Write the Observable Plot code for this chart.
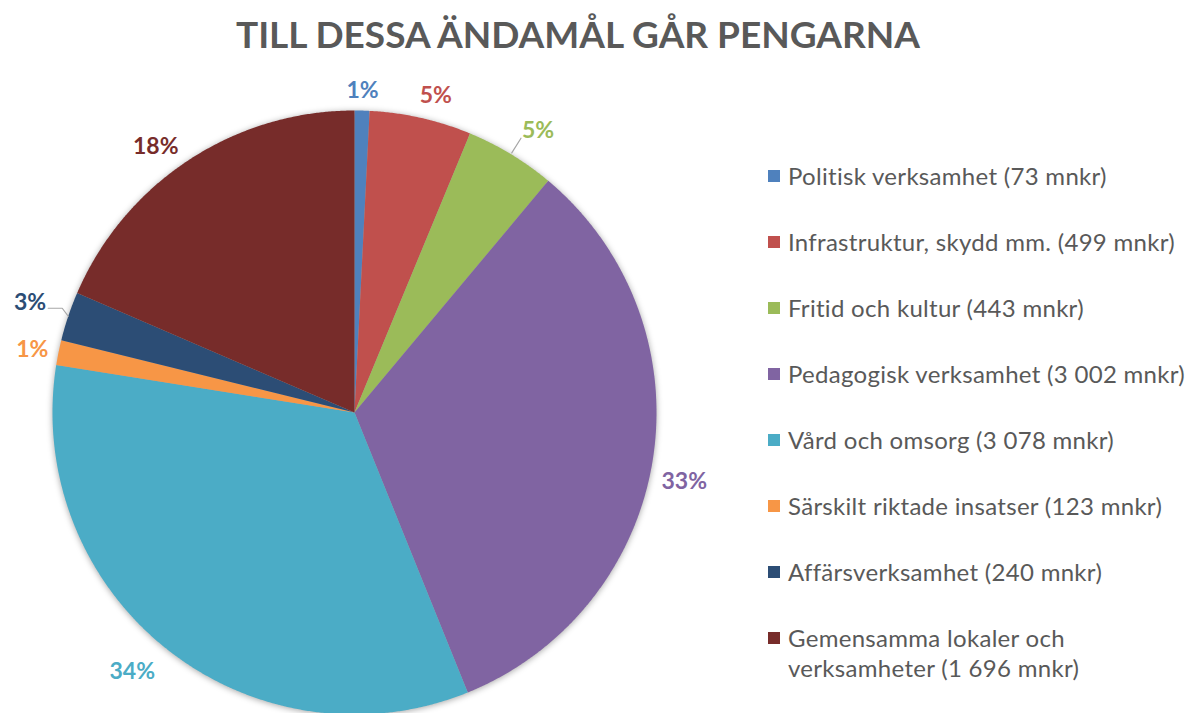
<!DOCTYPE html>
<html>
<head>
<meta charset="utf-8">
<script src="https://cdn.jsdelivr.net/npm/d3@7"></script>
<script src="https://cdn.jsdelivr.net/npm/@observablehq/plot@0.6"></script>
<style>
  html, body { margin: 0; padding: 0; background: #fff; overflow: hidden; }
  #wrap { position: relative; width: 1197px; height: 713px; font-family: Lato, "Open Sans", sans-serif; }
  #title { position: absolute; left: 0; width: 1156px; top: 11px; text-align: center; font-weight: 700; font-size: 37px; color: #595959; }
  #chart { position: absolute; left: 0; top: 0; }
  #legend { position: absolute; left: 768px; top: 0; color: #595959; font-size: 24px; letter-spacing: 0.3px; }
  .item { position: absolute; left: 0; white-space: nowrap; line-height: 30px; }
  .sw { position: absolute; left: 0; top: 9px; width: 12px; height: 12px; }
  .lt { position: absolute; left: 20px; top: 0; }
</style>
</head>
<body>
<div id="wrap">
  <div id="title">TILL DESSA ÄNDAMÅL GÅR PENGARNA</div>
  <div id="chart"></div>
  <div id="legend"></div>
</div>
<script>
// ---- data ----
const names = ["Politisk verksamhet", "Infrastruktur, skydd mm.", "Fritid och kultur", "Pedagogisk verksamhet", "Vård och omsorg", "Särskilt riktade insatser", "Affärsverksamhet", "Gemensamma lokaler och verksamheter"];
const values = [73, 499, 443, 3002, 3078, 123, 240, 1696];
const pctLabels = ["1%", "5%", "5%", "33%", "34%", "1%", "3%", "18%"];
const legendLabels = [
  ["Politisk verksamhet (73 mnkr)"],
  ["Infrastruktur, skydd mm. (499 mnkr)"],
  ["Fritid och kultur (443 mnkr)"],
  ["Pedagogisk verksamhet (3 002 mnkr)"],
  ["Vård och omsorg (3 078 mnkr)"],
  ["Särskilt riktade insatser (123 mnkr)"],
  ["Affärsverksamhet (240 mnkr)"],
  ["Gemensamma lokaler och", "verksamheter (1 696 mnkr)"]
];
const colors = ["#4F81BD", "#C0504D", "#9BBB59", "#8064A2", "#4BACC6", "#F79646", "#2C4D75", "#772C2A"];

// ---- layout (pixels) ----
const R = 302;            // pie radius in px
const labelNudge = [[0, 0], [10, 0], [14, -2], [2, 18], [-16, 0], [-2, 2], [-14, -6], [-17, 10]];
const leaders = { 2: true, 6: true };

// ---- geometry from data ----
const arcs = d3.pie().sort(null).value(v => v)(values);
const pts = [];
arcs.forEach((a, i) => {
  const name = names[i];
  pts.push({name, x: 0, y: 0});
  const n = Math.max(2, Math.ceil((a.endAngle - a.startAngle) / 0.005));
  for (let k = 0; k <= n; k++) {
    const t = a.startAngle + (a.endAngle - a.startAngle) * k / n;
    pts.push({name, x: Math.sin(t), y: Math.cos(t)});
  }
  pts.push({name, x: 0, y: 0});
});

const labels = arcs.map((a, i) => {
  const m = (a.startAngle + a.endAngle) / 2;
  const s = Math.sin(m), c = Math.cos(m);
  const w = pctLabels[i].length * 11 + 4, h = 20;
  const rl = (312 + Math.abs(s) * w / 2 + Math.abs(c) * h / 2) / R;
  return {name: names[i], text: pctLabels[i], x: s * rl, y: c * rl, m, i};
});

const leaderLines = [];
labels.forEach(l => {
  if (!leaders[l.i]) return;
  const ex = Math.sin(l.m), ey = Math.cos(l.m);
  if (l.i === 6) {
    leaderLines.push({id: l.i, x: ex, y: ey});
    leaderLines.push({id: l.i, x: ex - 6 / R, y: ey + 8 / R});
    leaderLines.push({id: l.i, x: ex - 20 / R, y: ey + 8 / R});
  } else {
    leaderLines.push({id: l.i, x: ex * 1.005, y: ey * 1.005});
    leaderLines.push({id: l.i, x: ex + 10 / R, y: ey + 16 / R});
  }
});

const plot = Plot.plot({
  width: 1197,
  height: 713,
  margin: 0,
  style: {background: "transparent", overflow: "visible"},
  x: {domain: [-1, 1], range: [354 - R, 354 + R], axis: null},
  y: {domain: [-1, 1], range: [412 + R, 412 - R], axis: null},
  color: {domain: names, range: colors},
  marks: [
    Plot.line(pts, {x: "x", y: "y", z: "name", fill: "name", stroke: "none", curve: "linear"}),
    Plot.line(leaderLines, {x: "x", y: "y", z: "id", stroke: "#A6A6A6", strokeWidth: 1.2}),
    ...labels.map((l, i) => Plot.text([l], {
      x: "x", y: "y", text: "text", fill: "name",
      dx: labelNudge[i][0], dy: labelNudge[i][1],
      fontSize: 23, fontWeight: 700, fontFamily: "Lato, 'Open Sans', sans-serif"
    }))
  ]
});
document.getElementById("chart").appendChild(plot);
const lineGroups = plot.querySelectorAll('g[aria-label="line"]');
if (lineGroups.length) lineGroups[0].style.filter = "drop-shadow(0px 1px 3px rgba(0,0,0,0.35))";

// ---- legend ----
const legend = document.getElementById("legend");
names.forEach((n, i) => {
  const it = document.createElement("div");
  it.className = "item";
  it.style.top = (161 + i * 66) + "px";
  const sw = document.createElement("div");
  sw.className = "sw";
  sw.style.background = colors[i];
  const t = document.createElement("div");
  t.className = "lt";
  t.innerHTML = legendLabels[i].join("<br>");
  it.appendChild(sw);
  it.appendChild(t);
  legend.appendChild(it);
});
</script>
</body>
</html>
